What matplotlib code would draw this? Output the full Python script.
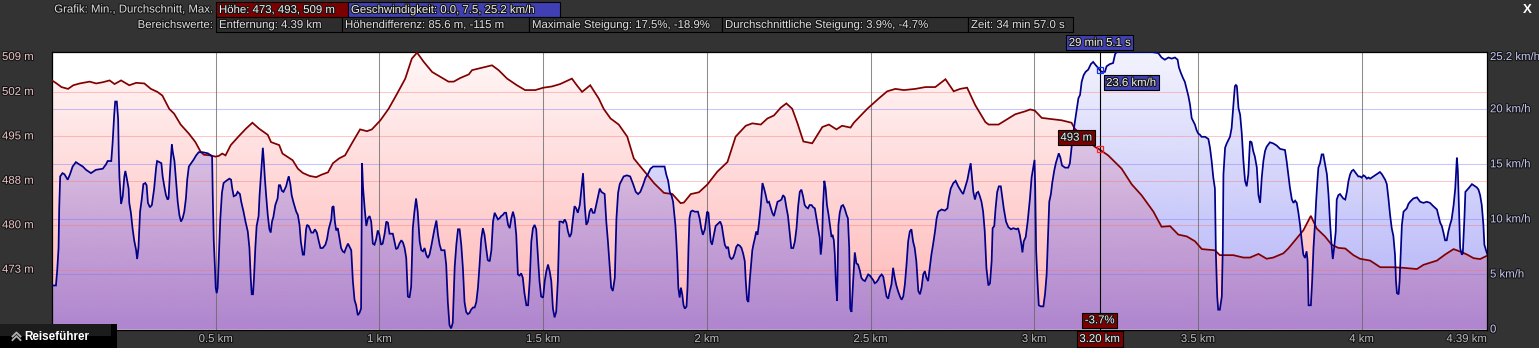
import numpy as np
import matplotlib
matplotlib.use("Agg")
import matplotlib.pyplot as plt
from matplotlib.path import Path
from matplotlib.lines import Line2D
from matplotlib.patches import Rectangle
import matplotlib.transforms as mtransforms
import matplotlib.patheffects as pe

plt.rcParams['font.family'] = ['Liberation Sans', 'DejaVu Sans']

# ---------------- data ----------------
ELEV_KM = [0.000, 0.014, 0.029, 0.049, 0.065, 0.085, 0.115, 0.135, 0.155, 0.176, 0.191, 0.211,
           0.236, 0.257, 0.282, 0.302, 0.322, 0.337, 0.358, 0.373, 0.393, 0.418, 0.438, 0.454,
           0.464, 0.484, 0.499, 0.509, 0.520, 0.530, 0.546, 0.571, 0.592, 0.612, 0.633, 0.659,
           0.669, 0.694, 0.704, 0.735, 0.751, 0.766, 0.787, 0.807, 0.823, 0.843, 0.858, 0.877,
           0.895, 0.916, 0.941, 0.962, 0.977, 1.003, 1.028, 1.054, 1.079, 1.099, 1.115, 1.135,
           1.161, 1.186, 1.211, 1.227, 1.247, 1.273, 1.283, 1.313, 1.344, 1.364, 1.390, 1.420,
           1.445, 1.476, 1.501, 1.527, 1.552, 1.588, 1.603, 1.619, 1.644, 1.670, 1.685, 1.706,
           1.731, 1.757, 1.777, 1.798, 1.818, 1.839, 1.869, 1.895, 1.920, 1.930, 1.951, 1.976,
           2.002, 2.032, 2.063, 2.088, 2.119, 2.139, 2.165, 2.185, 2.205, 2.226, 2.243, 2.261,
           2.277, 2.295, 2.322, 2.353, 2.373, 2.396, 2.413, 2.439, 2.449, 2.490, 2.525, 2.551,
           2.576, 2.602, 2.637, 2.668, 2.698, 2.729, 2.754, 2.774, 2.795, 2.820, 2.851, 2.861,
           2.891, 2.912, 2.942, 2.973, 2.988, 3.002, 3.023, 3.053, 3.084, 3.114, 3.124, 3.186,
           3.199, 3.226, 3.267, 3.298, 3.328, 3.364, 3.389, 3.415, 3.440, 3.466, 3.491, 3.512,
           3.552, 3.567, 3.608, 3.639, 3.659, 3.685, 3.710, 3.730, 3.761, 3.776, 3.802, 3.822,
           3.845, 3.863, 3.888, 3.909, 3.929, 3.950, 3.975, 3.995, 4.026, 4.057, 4.097, 4.128,
           4.169, 4.189, 4.230, 4.255, 4.281, 4.301, 4.322, 4.342, 4.362, 4.383]
ELEV_M = [504.3, 503.8, 503.2, 502.9, 503.5, 503.8, 504.1, 503.8, 504.0, 504.3, 503.7, 504.3,
          503.5, 503.9, 503.8, 502.9, 502.4, 501.8, 499.6, 498.8, 497.0, 495.5, 494.1, 492.5,
          492.0, 491.9, 491.7, 491.8, 492.2, 491.9, 493.6, 495.1, 496.3, 497.3, 496.3, 495.3,
          494.1, 493.6, 492.2, 491.1, 489.7, 489.0, 488.5, 488.3, 488.7, 489.1, 490.6, 491.4,
          491.9, 493.9, 496.2, 495.9, 496.2, 497.7, 499.6, 502.1, 504.6, 507.9, 508.9, 507.4,
          505.7, 504.9, 504.1, 504.1, 504.7, 505.3, 506.0, 506.4, 506.8, 506.0, 504.6, 503.5,
          502.7, 502.7, 503.1, 503.3, 503.7, 504.6, 503.5, 502.4, 503.5, 501.3, 499.6, 498.0,
          497.0, 495.0, 491.4, 490.0, 488.7, 487.3, 485.7, 485.5, 484.0, 484.1, 485.5, 485.8,
          487.1, 489.2, 490.8, 495.0, 496.8, 497.2, 497.0, 498.0, 498.5, 499.8, 500.5, 499.6,
          497.2, 494.2, 493.9, 496.6, 497.0, 496.2, 496.8, 496.5, 497.3, 499.6, 501.3, 502.5,
          502.9, 502.7, 502.9, 503.2, 503.2, 504.5, 502.5, 502.9, 503.1, 500.2, 497.4, 497.0,
          497.0, 497.7, 498.7, 499.2, 499.5, 499.3, 498.1, 497.9, 497.7, 497.3, 496.3, 493.3,
          492.9, 491.9, 489.7, 487.1, 485.3, 482.6, 480.1, 480.2, 478.8, 478.5, 477.7, 476.4,
          476.2, 475.4, 475.4, 475.0, 475.0, 475.6, 474.8, 475.0, 475.7, 476.5, 478.2, 479.5,
          481.9, 479.8, 478.5, 477.1, 476.6, 476.5, 475.4, 474.8, 474.5, 473.4, 473.4, 473.3,
          473.1, 473.8, 474.5, 475.5, 476.4, 476.0, 475.5, 474.9, 474.75, 475.3]

SPEED_KM = [0.000, 0.012, 0.016, 0.020, 0.022, 0.025, 0.032, 0.038, 0.048, 0.055, 0.063, 0.073,
            0.083, 0.094, 0.104, 0.119, 0.134, 0.155, 0.165, 0.170, 0.181, 0.185, 0.190, 0.193,
            0.198, 0.202, 0.204, 0.206, 0.211, 0.216, 0.221, 0.224, 0.228, 0.234, 0.236, 0.241,
            0.246, 0.251, 0.257, 0.260, 0.264, 0.269, 0.274, 0.279, 0.285, 0.289, 0.293, 0.299,
            0.305, 0.312, 0.318, 0.321, 0.328, 0.334, 0.338, 0.343, 0.348, 0.353, 0.356, 0.360,
            0.366, 0.369, 0.374, 0.379, 0.384, 0.389, 0.394, 0.399, 0.404, 0.409, 0.413, 0.418,
            0.425, 0.432, 0.440, 0.448, 0.460, 0.476, 0.486, 0.489, 0.491, 0.494, 0.498, 0.500,
            0.503, 0.506, 0.509, 0.514, 0.519, 0.524, 0.532, 0.542, 0.547, 0.550, 0.555, 0.562,
            0.567, 0.574, 0.578, 0.585, 0.591, 0.598, 0.603, 0.607, 0.610, 0.614, 0.617, 0.621,
            0.625, 0.631, 0.634, 0.637, 0.641, 0.644, 0.647, 0.650, 0.654, 0.659, 0.664, 0.668,
            0.672, 0.676, 0.682, 0.689, 0.693, 0.697, 0.702, 0.707, 0.715, 0.720, 0.723, 0.728,
            0.732, 0.738, 0.746, 0.751, 0.756, 0.760, 0.766, 0.770, 0.776, 0.779, 0.784, 0.788,
            0.792, 0.798, 0.803, 0.809, 0.815, 0.820, 0.827, 0.835, 0.840, 0.845, 0.853, 0.856,
            0.860, 0.864, 0.868, 0.873, 0.883, 0.888, 0.893, 0.898, 0.904, 0.909, 0.914, 0.919,
            0.924, 0.929, 0.934, 0.939, 0.944, 0.947, 0.950, 0.955, 0.960, 0.965, 0.970, 0.975,
            0.980, 0.985, 0.990, 0.995, 1.000, 1.005, 1.010, 1.016, 1.021, 1.026, 1.031, 1.041,
            1.046, 1.051, 1.056, 1.061, 1.067, 1.072, 1.077, 1.082, 1.087, 1.092, 1.097, 1.102,
            1.107, 1.112, 1.117, 1.123, 1.128, 1.133, 1.138, 1.143, 1.148, 1.153, 1.158, 1.163,
            1.168, 1.174, 1.179, 1.184, 1.189, 1.199, 1.204, 1.209, 1.214, 1.219, 1.224, 1.230,
            1.235, 1.240, 1.245, 1.250, 1.255, 1.260, 1.265, 1.270, 1.275, 1.280, 1.286, 1.291,
            1.296, 1.301, 1.306, 1.311, 1.316, 1.321, 1.326, 1.331, 1.337, 1.342, 1.347, 1.352,
            1.357, 1.362, 1.367, 1.372, 1.377, 1.382, 1.387, 1.393, 1.398, 1.403, 1.408, 1.413,
            1.418, 1.423, 1.428, 1.433, 1.438, 1.443, 1.449, 1.454, 1.459, 1.464, 1.469, 1.474,
            1.479, 1.484, 1.489, 1.494, 1.500, 1.505, 1.510, 1.515, 1.520, 1.525, 1.530, 1.535,
            1.540, 1.545, 1.550, 1.556, 1.561, 1.566, 1.571, 1.576, 1.581, 1.586, 1.591, 1.596,
            1.601, 1.606, 1.612, 1.617, 1.622, 1.627, 1.632, 1.637, 1.642, 1.647, 1.652, 1.657,
            1.662, 1.668, 1.673, 1.678, 1.688, 1.693, 1.698, 1.703, 1.708, 1.713, 1.719, 1.724,
            1.729, 1.734, 1.739, 1.746, 1.756, 1.766, 1.775, 1.783, 1.790, 1.797, 1.805, 1.813,
            1.820, 1.828, 1.836, 1.856, 1.871, 1.876, 1.882, 1.887, 1.892, 1.897, 1.900, 1.904,
            1.907, 1.910, 1.913, 1.917, 1.921, 1.925, 1.929, 1.933, 1.938, 1.941, 1.944, 1.947,
            1.951, 1.956, 1.963, 1.973, 1.978, 1.983, 1.988, 1.994, 1.997, 2.001, 2.005, 2.009,
            2.012, 2.016, 2.021, 2.027, 2.034, 2.041, 2.046, 2.050, 2.055, 2.060, 2.065, 2.070,
            2.075, 2.080, 2.085, 2.090, 2.095, 2.101, 2.106, 2.111, 2.116, 2.119, 2.123, 2.127,
            2.131, 2.136, 2.139, 2.143, 2.147, 2.151, 2.155, 2.160, 2.165, 2.170, 2.175, 2.180,
            2.185, 2.190, 2.195, 2.200, 2.205, 2.211, 2.216, 2.223, 2.228, 2.233, 2.238, 2.243,
            2.248, 2.253, 2.258, 2.264, 2.269, 2.274, 2.279, 2.284, 2.289, 2.294, 2.299, 2.304,
            2.309, 2.314, 2.320, 2.325, 2.330, 2.335, 2.340, 2.345, 2.348, 2.352, 2.355, 2.359,
            2.363, 2.367, 2.372, 2.376, 2.381, 2.384, 2.388, 2.391, 2.394, 2.398, 2.402, 2.406,
            2.411, 2.416, 2.421, 2.427, 2.431, 2.435, 2.438, 2.442, 2.447, 2.452, 2.457, 2.462,
            2.467, 2.472, 2.477, 2.483, 2.488, 2.493, 2.498, 2.503, 2.508, 2.513, 2.518, 2.523,
            2.528, 2.534, 2.539, 2.544, 2.549, 2.554, 2.559, 2.564, 2.569, 2.574, 2.579, 2.584,
            2.590, 2.595, 2.600, 2.605, 2.610, 2.615, 2.620, 2.625, 2.630, 2.635, 2.640, 2.646,
            2.651, 2.656, 2.661, 2.666, 2.671, 2.676, 2.681, 2.686, 2.691, 2.697, 2.702, 2.707,
            2.717, 2.727, 2.735, 2.739, 2.745, 2.753, 2.760, 2.768, 2.778, 2.783, 2.788, 2.796,
            2.801, 2.806, 2.809, 2.814, 2.819, 2.824, 2.829, 2.834, 2.839, 2.844, 2.849, 2.854,
            2.860, 2.865, 2.870, 2.873, 2.878, 2.882, 2.887, 2.892, 2.898, 2.903, 2.907, 2.914,
            2.921, 2.929, 2.936, 2.946, 2.951, 2.956, 2.961, 2.964, 2.968, 2.974, 2.980, 2.987,
            2.992, 2.997, 3.001, 3.003, 3.006, 3.010, 3.014, 3.020, 3.028, 3.033, 3.038, 3.043,
            3.046, 3.051, 3.055, 3.061, 3.066, 3.071, 3.075, 3.080, 3.085, 3.094, 3.104, 3.109,
            3.114, 3.119, 3.124, 3.129, 3.135, 3.140, 3.145, 3.151, 3.157, 3.165, 3.173, 3.180,
            3.188, 3.194, 3.199, 3.206, 3.216, 3.221, 3.231, 3.241, 3.247, 3.252, 3.308, 3.359,
            3.379, 3.389, 3.399, 3.410, 3.420, 3.430, 3.438, 3.442, 3.448, 3.455, 3.460, 3.466,
            3.471, 3.476, 3.481, 3.486, 3.491, 3.496, 3.501, 3.506, 3.511, 3.522, 3.532, 3.537,
            3.542, 3.547, 3.552, 3.555, 3.559, 3.562, 3.567, 3.573, 3.576, 3.578, 3.583, 3.588,
            3.593, 3.598, 3.603, 3.606, 3.610, 3.613, 3.616, 3.619, 3.624, 3.629, 3.634, 3.639,
            3.644, 3.649, 3.654, 3.659, 3.664, 3.669, 3.674, 3.680, 3.685, 3.690, 3.695, 3.700,
            3.705, 3.710, 3.720, 3.730, 3.741, 3.751, 3.766, 3.771, 3.776, 3.781, 3.787, 3.792,
            3.797, 3.802, 3.807, 3.812, 3.817, 3.822, 3.827, 3.832, 3.835, 3.838, 3.845, 3.849,
            3.853, 3.858, 3.861, 3.865, 3.868, 3.873, 3.878, 3.883, 3.888, 3.894, 3.899, 3.904,
            3.909, 3.912, 3.916, 3.921, 3.924, 3.929, 3.934, 3.939, 3.944, 3.950, 3.955, 3.960,
            3.965, 3.970, 3.975, 3.980, 3.985, 3.990, 3.995, 4.000, 4.006, 4.011, 4.016, 4.021,
            4.026, 4.036, 4.046, 4.056, 4.062, 4.072, 4.077, 4.082, 4.087, 4.092, 4.097, 4.102,
            4.105, 4.108, 4.113, 4.116, 4.120, 4.123, 4.128, 4.138, 4.143, 4.148, 4.158, 4.169,
            4.174, 4.179, 4.189, 4.199, 4.209, 4.219, 4.230, 4.235, 4.240, 4.245, 4.250, 4.255,
            4.260, 4.265, 4.270, 4.275, 4.281, 4.286, 4.291, 4.294, 4.297, 4.301, 4.306, 4.309,
            4.314, 4.317, 4.326, 4.337, 4.342, 4.352, 4.357, 4.362, 4.367, 4.372, 4.375, 4.383]
SPEED_KMH = [4.0, 4.0, 5.4, 7.4, 11.0, 13.9, 14.2, 14.1, 13.6, 14.1, 14.8, 15.2,
             15.0, 14.8, 14.5, 14.2, 14.5, 14.6, 15.0, 15.3, 15.3, 16.9, 19.5, 20.7,
             20.7, 19.1, 15.9, 13.8, 11.4, 12.1, 13.9, 14.4, 13.8, 12.8, 11.5, 10.6,
             9.2, 8.1, 7.2, 6.4, 7.4, 10.7, 11.8, 13.2, 13.3, 13.1, 11.5, 11.1,
             11.3, 12.8, 14.7, 15.3, 15.2, 15.1, 13.9, 13.0, 12.2, 11.8, 11.9, 14.1,
             16.8, 16.1, 15.3, 13.5, 11.6, 10.4, 9.8, 10.1, 10.7, 11.9, 13.6, 14.8,
             15.1, 15.4, 15.8, 16.1, 16.1, 16.0, 15.8, 15.7, 12.2, 8.1, 5.4, 3.8,
             3.3, 3.8, 6.2, 10.0, 12.4, 13.3, 13.5, 13.7, 13.6, 12.9, 12.1, 12.2,
             12.5, 12.3, 11.6, 10.7, 9.8, 8.9, 7.4, 4.7, 3.2, 3.2, 4.7, 7.4,
             9.4, 10.3, 12.2, 13.5, 15.3, 16.5, 15.3, 13.8, 12.2, 10.4, 9.1, 8.8,
             9.8, 10.2, 11.3, 11.9, 13.1, 13.1, 12.6, 12.5, 13.0, 13.6, 13.9, 13.2,
             12.2, 11.5, 10.7, 10.4, 9.5, 8.0, 6.8, 6.8, 9.1, 9.5, 9.4, 9.1,
             8.8, 8.8, 9.1, 8.8, 8.0, 7.4, 7.4, 7.7, 8.2, 9.1, 10.0, 11.1,
             11.2, 9.8, 9.0, 9.2, 7.4, 7.1, 7.0, 7.4, 7.8, 7.5, 7.2, 4.4,
             2.7, 2.2, 1.3, 1.5, 1.9, 15.1, 12.9, 11.0, 9.4, 10.1, 10.3, 9.8,
             7.8, 7.7, 8.2, 9.0, 8.6, 7.7, 7.8, 8.7, 9.8, 9.7, 8.7, 8.7,
             8.0, 7.3, 7.4, 7.8, 8.1, 7.9, 7.4, 6.5, 3.0, 2.9, 3.9, 9.2,
             10.7, 11.9, 10.7, 8.0, 7.2, 7.1, 7.4, 6.8, 6.5, 6.8, 7.5, 8.3,
             9.1, 9.9, 8.6, 7.7, 7.2, 7.2, 5.9, 2.5, 0.4, 0.1, 0.6, 5.7,
             7.7, 9.1, 9.1, 7.7, 5.6, 2.5, 1.6, 1.4, 1.5, 1.8, 2.0, 2.0,
             2.5, 3.8, 5.9, 8.2, 9.2, 8.6, 7.4, 6.3, 6.2, 7.2, 9.8, 10.6,
             10.3, 10.0, 10.1, 10.3, 10.4, 10.6, 10.6, 9.5, 9.2, 10.1, 10.7, 10.1,
             8.6, 5.0, 4.9, 5.1, 4.7, 3.3, 2.2, 2.2, 4.4, 8.0, 9.2, 9.5,
             9.1, 6.8, 4.4, 3.0, 2.9, 4.4, 5.3, 5.9, 5.3, 4.4, 1.9, 1.1,
             1.6, 4.4, 9.8, 9.8, 9.7, 10.0, 9.7, 8.9, 8.4, 8.7, 10.0, 11.2,
             11.0, 10.6, 11.3, 12.8, 14.2, 11.3, 9.5, 9.8, 10.7, 11.0, 10.6, 10.6,
             11.3, 12.1, 12.8, 12.5, 12.3, 9.8, 8.0, 5.9, 3.8, 3.5, 4.7, 10.1,
             12.4, 13.2, 13.5, 13.9, 14.0, 13.9, 13.2, 12.5, 12.3, 12.5, 13.1, 13.8,
             14.1, 14.6, 14.8, 14.8, 14.8, 14.1, 13.5, 12.5, 12.2, 11.6, 10.7, 9.5,
             8.0, 6.2, 3.8, 2.9, 3.8, 3.2, 2.2, 1.9, 2.1, 3.8, 7.4, 10.1,
             10.7, 10.8, 10.7, 10.7, 10.1, 9.2, 8.6, 9.1, 9.8, 10.7, 10.6, 9.1,
             8.0, 7.7, 8.5, 9.4, 9.6, 9.8, 9.4, 8.6, 7.7, 7.4, 7.5, 6.6,
             6.4, 6.5, 6.9, 7.5, 7.7, 7.6, 7.4, 6.9, 6.2, 4.4, 2.7, 2.5,
             4.4, 6.2, 7.2, 7.8, 8.3, 8.9, 8.6, 9.8, 11.3, 13.3, 12.8, 12.2,
             11.5, 11.6, 11.1, 10.6, 10.3, 11.0, 11.6, 11.7, 11.8, 12.2, 12.0, 11.1,
             10.3, 8.8, 7.4, 7.4, 8.0, 9.2, 11.2, 12.5, 12.7, 12.1, 11.3, 11.1,
             11.0, 11.3, 11.3, 11.1, 11.0, 10.1, 9.2, 8.3, 6.8, 8.0, 11.3, 13.5,
             12.8, 11.3, 10.4, 9.5, 8.4, 8.6, 8.1, 6.8, 4.4, 2.6, 9.5, 10.6,
             11.2, 11.3, 11.0, 10.4, 10.1, 7.4, 1.9, 1.6, 4.4, 7.0, 6.0, 5.9,
             5.4, 4.7, 4.5, 4.4, 4.7, 5.0, 4.9, 4.7, 4.5, 4.2, 4.3, 4.5,
             4.8, 5.0, 4.8, 3.9, 3.0, 2.8, 3.5, 4.1, 5.6, 4.7, 4.0, 3.5,
             3.0, 2.7, 3.0, 4.1, 5.9, 8.0, 8.9, 9.1, 8.0, 7.4, 6.2, 3.5,
             3.2, 3.8, 5.0, 5.3, 4.7, 4.4, 5.6, 6.8, 7.7, 8.9, 10.1, 10.7,
             10.9, 10.8, 11.0, 11.9, 12.8, 13.3, 13.5, 13.0, 12.5, 12.3, 12.8, 13.6,
             14.4, 15.1, 14.1, 12.5, 11.8, 12.4, 12.5, 12.1, 11.6, 10.7, 8.9, 5.6,
             4.0, 4.2, 6.2, 9.2, 9.4, 11.0, 12.5, 13.0, 13.0, 11.9, 11.0, 9.8,
             9.3, 9.1, 9.2, 9.1, 9.2, 8.6, 7.7, 7.0, 8.0, 8.4, 9.8, 11.9,
             13.8, 14.7, 15.4, 13.0, 7.1, 4.4, 2.2, 2.1, 2.1, 3.2, 5.0, 9.2,
             11.6, 12.3, 13.3, 14.4, 15.1, 15.6, 16.0, 15.6, 14.9, 14.7, 14.7, 15.1,
             16.5, 17.8, 18.8, 19.8, 21.0, 21.3, 22.5, 23.1, 23.4, 23.6, 24.1, 24.3,
             24.0, 23.8, 23.6, 23.4, 23.4, 23.9, 24.1, 24.2, 25.0, 25.2, 25.2, 25.2,
             25.1, 24.7, 24.5, 24.7, 24.6, 24.7, 24.5, 23.8, 23.3, 22.8, 22.5, 21.8,
             21.2, 20.4, 19.2, 18.9, 18.6, 18.1, 17.8, 17.7, 17.5, 17.5, 17.3, 16.5,
             15.3, 13.8, 12.8, 6.8, 3.0, 1.8, 1.8, 3.0, 7.4, 14.1, 16.5, 16.9,
             17.2, 17.5, 18.3, 19.5, 21.0, 22.1, 22.2, 22.1, 20.1, 19.5, 17.8, 15.3,
             13.5, 13.0, 14.1, 17.1, 17.0, 16.2, 15.7, 14.7, 12.2, 11.5, 13.8, 15.3,
             16.2, 16.6, 17.0, 16.9, 16.7, 16.4, 16.3, 15.3, 14.1, 12.9, 11.8, 11.5,
             11.7, 11.5, 10.6, 9.5, 8.1, 6.8, 6.5, 7.1, 6.2, 2.2, 2.2, 4.4,
             7.4, 9.8, 11.6, 13.5, 14.7, 15.1, 15.9, 15.9, 15.1, 14.1, 12.2, 9.5,
             7.4, 6.4, 7.4, 8.9, 11.8, 12.2, 12.3, 12.1, 11.9, 11.8, 12.5, 13.5,
             14.1, 14.4, 14.5, 14.3, 14.1, 13.9, 13.9, 13.8, 14.0, 13.9, 13.7, 13.8,
             13.7, 13.9, 14.1, 14.3, 14.1, 13.6, 13.2, 11.9, 10.4, 9.2, 8.5, 6.8,
             4.4, 3.3, 3.2, 4.4, 7.4, 9.5, 10.7, 11.0, 11.4, 11.6, 11.9, 12.0,
             11.8, 11.6, 11.5, 11.6, 11.5, 11.2, 10.9, 10.3, 9.7, 9.4, 8.8, 8.1,
             8.1, 8.9, 9.5, 10.0, 11.3, 12.8, 15.6, 14.4, 11.3, 7.4, 6.8, 6.9,
             10.1, 12.5, 12.8, 13.2, 13.1, 12.9, 12.7, 12.2, 11.3, 9.5, 7.7, 6.9]

X_MAX = 4.383
X_TICKS = [0.5, 1.0, 1.5, 2.0, 2.5, 3.0, 3.5, 4.0]
X_TICK_LABELS = ['0.5 km', '1 km', '1.5 km', '2 km', '2.5 km', '3 km', '3.5 km', '4 km']
X_END_LABEL = '4.39 km'

ELEV_RANGE = (463.1, 509.0)
ELEV_TICKS = [473.0, 480.35, 487.7, 495.05, 502.4]
ELEV_TICK_LABELS = ['473 m', '480 m', '488 m', '495 m', '502 m']
ELEV_MAX_LABEL = '509 m'

SPEED_MAX = 25.2
SPEED_TICKS = [5, 10, 15, 20]
SPEED_TICK_LABELS = ['5 km/h', '10 km/h', '15 km/h', '20 km/h']
SPEED_MAX_LABEL = '25.2 km/h'
SPEED_ZERO_LABEL = '0'

CURSOR_KM = 3.20
CURSOR_ELEV = 493.0
CURSOR_SPEED = 23.6
CURSOR_TIME = '29 min 5.1 s'
CURSOR_GRADE = '-3.7%'
CURSOR_DIST = '3.20 km'
CURSOR_ELEV_LABEL = '493 m'
CURSOR_SPEED_LABEL = '23.6 km/h'

HEADER_ROW1_TITLE = 'Grafik: Min., Durchschnitt, Max.'
HEADER_ROW1 = ['Höhe: 473, 493, 509 m', 'Geschwindigkeit: 0.0, 7.5, 25.2 km/h']
HEADER_ROW2_TITLE = 'Bereichswerte:'
HEADER_ROW2 = ['Entfernung: 4.39 km', 'Höhendifferenz: 85.6 m, -115 m',
               'Maximale Steigung: 17.5%, -18.9%', 'Durchschnittliche Steigung: 3.9%, -4.7%',
               'Zeit: 34 min 57.0 s']
GUIDE_LABEL = 'Reiseführer'

# ---------------- layout / style ----------------
W, H = 1539, 348
BG = '#333333'
RED_BOX = '#7c0000'
BLUE_BOX = '#4040b4'
FS = 8.2


def fx(px):
    return px / W


def fy(py):
    return 1 - py / H


fig = plt.figure(figsize=(W / 100, H / 100), dpi=100, facecolor=BG)
AX_L, AX_R, AX_T, AX_B = 52, 1487, 52, 329.5
ax = fig.add_axes([fx(AX_L), fy(AX_B), (AX_R - AX_L) / W, (AX_B - AX_T) / H])
ax.set_facecolor('white')
ax2 = ax.twinx()

n = 256
t = np.linspace(0, 1, n)[:, None]

# elevation fill (pink gradient)
pink_top = np.array([255, 247, 247]) / 255
pink_bot = np.array([255, 180, 180]) / 255
img = np.ones((n, 1, 4))
img[:, 0, :3] = pink_top + (pink_bot - pink_top) * t
im = ax.imshow(img, extent=(0, 1, 0, 1), transform=ax.transAxes, aspect='auto',
               origin='upper', interpolation='bilinear', zorder=1)
ek = np.asarray(ELEV_KM)
em = np.asarray(ELEV_M)
ev = np.column_stack([np.r_[ek[0], ek, ek[-1]], np.r_[ELEV_RANGE[0], em, ELEV_RANGE[0]]])
im.set_clip_path(Path(ev), ax.transData)

# speed fill (translucent blue gradient)
sk = np.asarray(SPEED_KM)
sv = np.asarray(SPEED_KMH)
img2 = np.zeros((n, 1, 4))
img2[:, 0, :3] = np.array([80, 80, 240]) / 255
img2[:, 0, 3] = (0.07 + (0.46 - 0.07) * t)[:, 0]
im2 = ax2.imshow(img2, extent=(0, 1, 0, 1), transform=ax2.transAxes, aspect='auto',
                 origin='upper', interpolation='bilinear', zorder=1)
sp = np.column_stack([np.r_[sk[0], sk, sk[-1]], np.r_[0, sv, 0]])
im2.set_clip_path(Path(sp), ax2.transData)

ax.set_xlim(0, X_MAX)
ax.set_ylim(*ELEV_RANGE)
ax2.set_ylim(0, SPEED_MAX)

# gridlines on top of fills
blend_e = mtransforms.blended_transform_factory(ax2.transAxes, ax.transData)
for e in ELEV_TICKS:
    ax2.add_line(Line2D([0, 1], [e, e], transform=blend_e, color='#ff6e6e',
                        alpha=0.38, lw=0.75, zorder=2))
for s in SPEED_TICKS + [SPEED_MAX]:
    ax2.axhline(s, color='#6e6eff', alpha=0.38, lw=0.75, zorder=2)
for k in X_TICKS:
    ax2.axvline(k, color='#666666', alpha=0.75, lw=0.75, zorder=2)

# lines
ax2.plot(ek, em, transform=ax.transData, color='#800000', lw=1.25, zorder=3,
         solid_joinstyle='miter')
ax2.plot(sk, sv, color='#000088', lw=1.25, zorder=4, solid_joinstyle='miter')

for a in (ax, ax2):
    a.set_xticks([])
    a.set_yticks([])
for s in ax.spines.values():
    s.set_visible(False)
for s in ax2.spines.values():
    s.set_color('black')
    s.set_linewidth(0.9)

# ---------------- axis labels ----------------
stroke = [pe.withStroke(linewidth=1.6, foreground='#151515')]
tl = mtransforms.blended_transform_factory(fig.transFigure, ax.transData)
for v, lab in zip(ELEV_TICKS, ELEV_TICK_LABELS):
    fig.text(fx(2), v, lab, transform=tl, ha='left', va='center', fontsize=FS,
             color='#e9c4c4', path_effects=stroke)
fig.text(fx(2), ELEV_RANGE[1], ELEV_MAX_LABEL, transform=tl, ha='left', va='top',
         fontsize=FS, color='#e9c4c4', path_effects=stroke)

tr = mtransforms.blended_transform_factory(fig.transFigure, ax2.transData)
for v, lab in zip(SPEED_TICKS, SPEED_TICK_LABELS):
    fig.text(fx(1490), v, lab, transform=tr, ha='left', va='center', fontsize=FS,
             color='#c6c6f4', path_effects=stroke)
fig.text(fx(1490), SPEED_MAX, SPEED_MAX_LABEL, transform=tr, ha='left', va='top',
         fontsize=FS, color='#c6c6f4', path_effects=stroke)
fig.text(fx(1490), 0, SPEED_ZERO_LABEL, transform=tr, ha='left', va='center',
         fontsize=FS, color='#c6c6f4', path_effects=stroke)

tb = mtransforms.blended_transform_factory(ax.transData, fig.transFigure)
for k, lab in zip(X_TICKS, X_TICK_LABELS):
    fig.text(k, fy(339), lab, transform=tb, ha='center', va='center', fontsize=FS,
             color='#b9b9b9', path_effects=stroke)
fig.text(fx(AX_R), fy(339), X_END_LABEL, ha='right', va='center', fontsize=FS,
         color='#b9b9b9', path_effects=stroke)

# ---------------- cursor ----------------
ax2.axvline(CURSOR_KM, color='black', lw=0.8, zorder=6)
ax2.plot([CURSOR_KM], [CURSOR_SPEED], marker='s', ms=5, mfc='none', mec='#1030ff',
         mew=0.9, zorder=7)
ax2.plot([CURSOR_KM], [CURSOR_ELEV], transform=ax.transData, marker='s', ms=5,
         mfc='none', mec='#ff2020', mew=0.9, zorder=7)

box_kw = dict(boxstyle='square,pad=0.22', ec='black', lw=0.8)
txt_kw = dict(fontsize=FS, color='#f2f2f2', path_effects=stroke, zorder=8,
              annotation_clip=False)
ax2.annotate(CURSOR_SPEED_LABEL, xy=(CURSOR_KM, CURSOR_SPEED), xycoords='data',
             xytext=(4.6, -6.0), textcoords='offset points', ha='left', va='top',
             bbox=dict(fc=BLUE_BOX, **box_kw), **txt_kw)
ax2.annotate(CURSOR_ELEV_LABEL, xy=(CURSOR_KM, CURSOR_ELEV), xycoords=ax.transData,
             xytext=(-5.4, 4.4), textcoords='offset points', ha='right', va='bottom',
             bbox=dict(fc=RED_BOX, **box_kw), **txt_kw)
top_tr = mtransforms.blended_transform_factory(ax2.transData, ax2.transAxes)
ax2.annotate(CURSOR_TIME, xy=(CURSOR_KM, 1.0), xycoords=top_tr,
             xytext=(0, 3.0), textcoords='offset points', ha='center', va='bottom',
             bbox=dict(fc=BLUE_BOX, **box_kw), **txt_kw)
ax2.annotate(CURSOR_GRADE, xy=(CURSOR_KM, 0.0), xycoords=top_tr,
             xytext=(0, 3.0), textcoords='offset points', ha='center', va='bottom',
             bbox=dict(fc=RED_BOX, **box_kw), **txt_kw)
fig.text(CURSOR_KM, fy(339), CURSOR_DIST, transform=tb, ha='center', va='center',
         fontsize=FS, color='#f2f2f2', path_effects=stroke, zorder=8,
         bbox=dict(fc=RED_BOX, boxstyle='square,pad=0.25', ec='black', lw=0.8))

# ---------------- header ----------------
def fig_box(x0, y0, x1, y1, fc, text, tc='#eeeeee'):
    fig.patches.append(Rectangle((fx(x0), fy(y1)), (x1 - x0) / W, (y1 - y0) / H,
                                 transform=fig.transFigure, fc=fc, ec='black', lw=0.8))
    fig.text(fx(x0 + 3), fy((y0 + y1) / 2 + 0.5), text, ha='left', va='center',
             fontsize=FS, color=tc, path_effects=stroke)


fig.text(fx(213), fy(9.5), HEADER_ROW1_TITLE, ha='right', va='center', fontsize=FS,
         color='#dcdcdc', path_effects=stroke)
fig.text(fx(213), fy(25), HEADER_ROW2_TITLE, ha='right', va='center', fontsize=FS,
         color='#dcdcdc', path_effects=stroke)
row1_x = [216, 348, 560]
row1_fc = [RED_BOX, BLUE_BOX]
for i, txt in enumerate(HEADER_ROW1):
    fig_box(row1_x[i], 2, row1_x[i + 1], 17, row1_fc[i], txt)
row2_x = [216, 342, 529, 722, 968, 1073]
for i, txt in enumerate(HEADER_ROW2):
    fig_box(row2_x[i], 17, row2_x[i + 1], 32, '#2d2d2d', txt, tc='#dedede')

fig.text(fx(1527), fy(10), 'X', ha='center', va='center', fontsize=9.5,
         fontweight='bold', color='white')

# Reiseführer button
fig.patches.append(Rectangle((0, 0), 117 / W, (348 - 324) / H, transform=fig.transFigure,
                             fc='black', ec='none'))
fig.patches.append(Rectangle((0, fy(336)), 111 / W, 12 / H, transform=fig.transFigure,
                             fc='#1c1c1c', ec='none'))
for dy in (0.0, 3.6):
    fig.lines.append(Line2D([fx(12.5), fx(16.5), fx(20.5)],
                            [fy(336.5 + dy), fy(332.5 + dy), fy(336.5 + dy)],
                            transform=fig.transFigure, color='#b0b0b0', lw=1.3))
fig.text(fx(24), fy(336.5), GUIDE_LABEL, ha='left', va='center', fontsize=8.4,
         fontweight='bold', color='white')

fig.savefig('out.png', dpi=100, facecolor=BG)
